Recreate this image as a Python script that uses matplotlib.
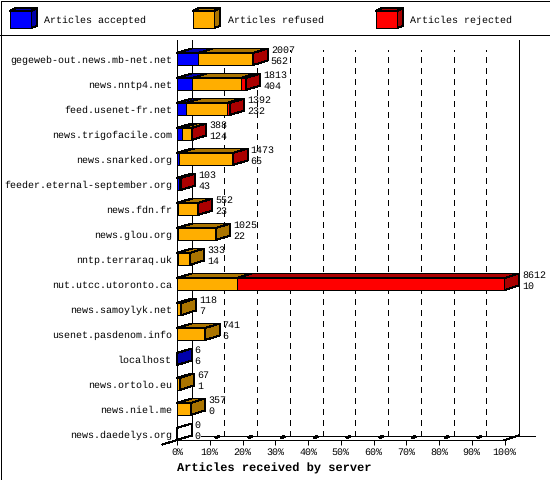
import numpy as np
import matplotlib
matplotlib.use("Agg")
import matplotlib.pyplot as plt
from matplotlib.patches import Polygon, Rectangle

plt.rcParams['font.family'] = ['Liberation Mono', 'DejaVu Sans Mono']
plt.rcParams['text.antialiased'] = True
plt.rcParams['text.hinting'] = 'no_hinting'
plt.rcParams['text.hinting_factor'] = 1

servers = ["gegeweb-out.news.mb-net.net", "news.nntp4.net", "feed.usenet-fr.net",
           "news.trigofacile.com", "news.snarked.org", "feeder.eternal-september.org",
           "news.fdn.fr", "news.glou.org", "nntp.terraraq.uk", "nut.utcc.utoronto.ca",
           "news.samoylyk.net", "usenet.pasdenom.info", "localhost", "news.ortolo.eu",
           "news.niel.me", "news.daedelys.org"]
totals = [2007, 1813, 1392, 388, 1473, 103, 552, 1025, 333, 8612, 118, 741, 6, 67, 357, 0]
accepted = [562, 404, 232, 124, 65, 43, 23, 22, 14, 10, 7, 6, 6, 1, 0, 0]
refused = [1437, 1271, 1075, 256, 1400, 52, 522, 1003, 319, 1565, 111, 735, 0, 66, 357, 0]
rejected = [8, 138, 85, 8, 8, 8, 7, 0, 0, 7037, 0, 0, 0, 0, 0, 0]
series_names = ["Articles accepted", "Articles refused", "Articles rejected"]
front_cols = ["#0000ff", "#ffae00", "#ff0000"]
dark_cols = ["#0000aa", "#aa7400", "#aa0000"]
pct_ticks = list(range(0, 101, 10))

W, H = 550, 480
LW = 0.72  # one pixel at dpi 100
FS = 7.2
fig = plt.figure(figsize=(W / 100, H / 100), dpi=100)
ax = fig.add_axes([177 / W, (H - 440) / H, 327.5 / W, 400 / H])
ax.set_xlim(0, 100)
ax.set_ylim(16, 0)
ax.patch.set_visible(False)

# depth of the fake 3d, in data units
dx = 14.5 / 3.275
dy = 4.5 / 25
bar_h = 12 / 25
scale = 100.0 / max(totals)


def poly(points, face, z=3):
    ax.add_patch(Polygon(points, closed=True, facecolor=face, edgecolor='black', lw=LW,
                         antialiased=False, clip_on=False, zorder=z))


def wall(xs, ys, **kw):
    kw.setdefault('lw', LW)
    ax.plot(xs, ys, color='black', aa=False, clip_on=False, zorder=1, **kw)


# back wall, floor and grid
wall([dx, dx], [0, 16 - dy])
wall([100 + dx, 100 + dx], [0, 16 - dy])
wall([dx + 9 / 3.275, 100 + dx + 16 / 3.275], [16 - dy, 16 - dy])
wall([-dx, dx], [16 + dy, 16 - dy])
wall([100, 100 + dx], [16, 16 - dy])
for p in pct_ticks[1:-1]:
    wall([p + dx, p + dx], [16 - dy, 0.4], dashes=(5.5, 5.5))
    wall([p + dx * 0.45, p + dx * 0.6], [16 - dy * 0.55, 16 - dy * 0.75], lw=1.5)

# stacked bars
for i in range(len(servers)):
    front = i + 1
    top = front - bar_h
    vals = [accepted[i], refused[i], rejected[i]]
    left = 0.0
    last = None
    for v, fc, dc in zip(vals, front_cols, dark_cols):
        if v == 0:
            continue
        w = v * scale
        poly([(left, top), (left + dx, top - dy), (left + w + dx, top - dy), (left + w, top)], dc)
        poly([(left, front), (left + w, front), (left + w, top), (left, top)], fc, 4)
        left += w
        last = dc
    poly([(left, front), (left + dx, front - dy), (left + dx, top - dy), (left, top)],
         last if last else 'none', 4)
    xt = left + dx + 3 / 3.275
    ax.text(xt, front - 15 / 25, str(totals[i]), fontsize=FS, va='center', ha='left', zorder=5)
    ax.text(xt, front - 4 / 25, str(accepted[i]), fontsize=FS, va='center', ha='left', zorder=5)

# axes
for s in ('top', 'right'):
    ax.spines[s].set_visible(False)
for s in ('left', 'bottom'):
    ax.spines[s].set_linewidth(LW)
    ax.spines[s].set_antialiased(False)
ax.set_xticks(pct_ticks)
ax.set_xticklabels([f"{p}%" for p in pct_ticks], fontsize=FS)
ax.tick_params(axis='x', length=3.6, width=LW, pad=1.8)
ax.set_yticks(np.arange(len(servers)) + 1 - 6 / 25)
ax.set_yticklabels(servers, fontsize=FS)
ax.tick_params(axis='y', length=0, pad=3.6)
ax.set_xlabel("Articles received by server", fontsize=8.4, fontweight='bold',
              x=(274 - 177) / 327.5, labelpad=4)

# outer frame and legend strip, in pixels
fig.add_artist(Rectangle((0.5 / W, 0.5 / H), (W - 1) / W, (H - 1) / H, fill=False, edgecolor='black',
                         lw=LW, antialiased=False, transform=fig.transFigure))
fig.add_artist(plt.Line2D([0, 1], [(H - 35) / H] * 2, color='black', lw=LW, aa=False))
for name, fc, dc, x in zip(series_names, front_cols, dark_cols, [10, 193, 376]):
    box = [(x, 28), (x + 21, 28), (x + 21, 11), (x, 11)]
    roof = [(x, 11), (x + 6, 8), (x + 27, 8), (x + 21, 11)]
    side = [(x + 21, 28), (x + 27, 26), (x + 27, 8), (x + 21, 11)]
    for pts, col in ((roof, dc), (side, dc), (box, fc)):
        pts = [(a / W, (H - b) / H) for a, b in pts]
        fig.add_artist(Polygon(pts, closed=True, facecolor=col, edgecolor='black', lw=LW,
                               antialiased=False, transform=fig.transFigure))
    fig.text((x + 34.5) / W, (H - 20.5) / H, name, fontsize=FS, va='center', ha='left')

fig.savefig("out.png", dpi=100)
